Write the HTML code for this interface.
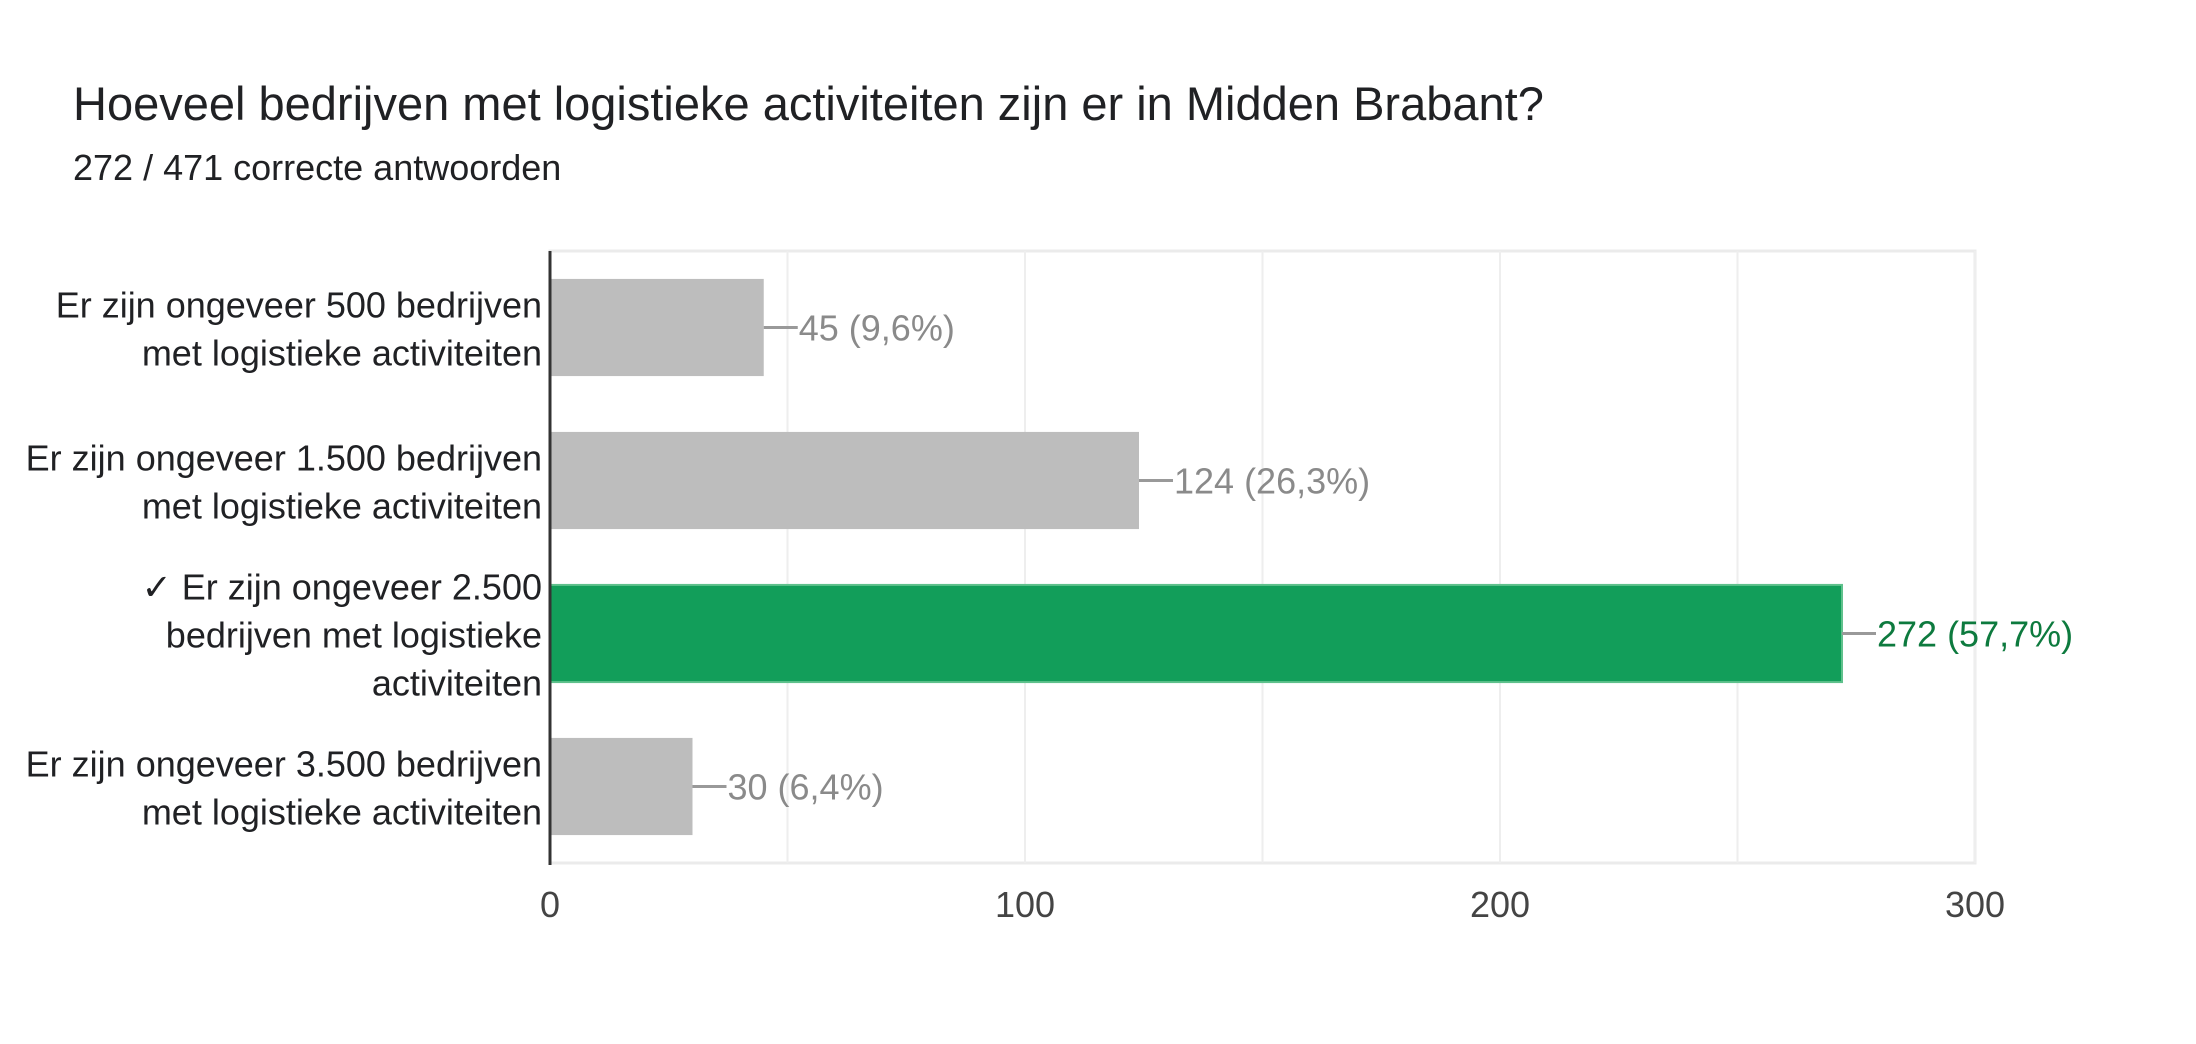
<!DOCTYPE html>
<html><head><meta charset="utf-8"><style>
body{margin:0;background:#fff;}
svg{display:block;font-family:"Liberation Sans",Arial,sans-serif;}
</style></head><body>
<svg id="chart" width="2196" height="1044" viewBox="0 0 2196 1044">
<text x="73" y="120" font-size="47" fill="#202124">Hoeveel bedrijven met logistieke activiteiten zijn er in Midden Brabant?</text>
<text x="73" y="180" font-size="36" fill="#202124">272 / 471 correcte antwoorden</text>
<g id="grid"></g><g id="bars"></g><g id="labels"></g>
</svg>
<script>
const categories=[["Er zijn ongeveer 500 bedrijven","met logistieke activiteiten"],["Er zijn ongeveer 1.500 bedrijven","met logistieke activiteiten"],["✓ Er zijn ongeveer 2.500","bedrijven met logistieke","activiteiten"],["Er zijn ongeveer 3.500 bedrijven","met logistieke activiteiten"]];
const values=[45,124,272,30];
const percents=["9,6%","26,3%","57,7%","6,4%"];
const correct=[false,false,true,false];
const ticks=[0,100,200,300];
const gridVals=[50,100,150,200,250,300];
const NS="http://www.w3.org/2000/svg";
const X0=550,X1=1975,Y0=251,Y1=863,MAX=300;
const x=v=>X0+(X1-X0)*v/MAX;
const band=(Y1-Y0)/categories.length;
const yc=i=>Y0+band*(i+0.5);
function mk(tag,attrs,parent){const e=document.createElementNS(NS,tag);for(const k in attrs)e.setAttribute(k,attrs[k]);parent.appendChild(e);return e;}
const grid=document.getElementById('grid'),bars=document.getElementById('bars'),labels=document.getElementById('labels');
let r=mk('rect',{x:X0,y:Y0,width:X1-X0,height:Y1-Y0,fill:'none',stroke:'#ebebeb','stroke-width':3},grid);


gridVals.forEach(v=>{const l=mk('line',{x1:x(v),x2:x(v),y1:Y0,y2:Y1,stroke:'#eeeeee','stroke-width':2},grid);

});
ticks.forEach(v=>{const t=mk('text',{x:x(v),y:917,'font-size':36,fill:'#444','text-anchor':'middle'},labels);t.textContent=v;

});
const bh=band*0.635;
values.forEach((v,i)=>{
 const b=mk('rect',{x:X0,y:yc(i)-bh/2,width:x(v)-X0,height:bh,fill:correct[i]?'#129e5a':'#bdbdbd',stroke:correct[i]?'#5fc18c':'none','stroke-width':2},bars);
 
 
 const c=mk('line',{x1:x(v),x2:x(v)+34,y1:yc(i),y2:yc(i),stroke:'#999','stroke-width':3},labels);
 
 
 const t=mk('text',{x:x(v)+35,y:yc(i)+13,'font-size':36,fill:correct[i]?'#0d7a3e':'#8a8a8a'},labels);
 t.textContent=v+' ('+percents[i]+')';
 
 
 const lines=categories[i],lh=48,start=yc(i)-(lines.length-1)*lh/2;
 lines.forEach((s,j)=>{const tt=mk('text',{x:542,y:start+j*lh+14,'font-size':36,fill:'#202124','text-anchor':'end'},labels);tt.textContent=s;
 
 });
});
const ax=mk('line',{x1:X0,x2:X0,y1:Y0,y2:Y1+2,stroke:'#333','stroke-width':3},labels);


</script>
</body></html>
